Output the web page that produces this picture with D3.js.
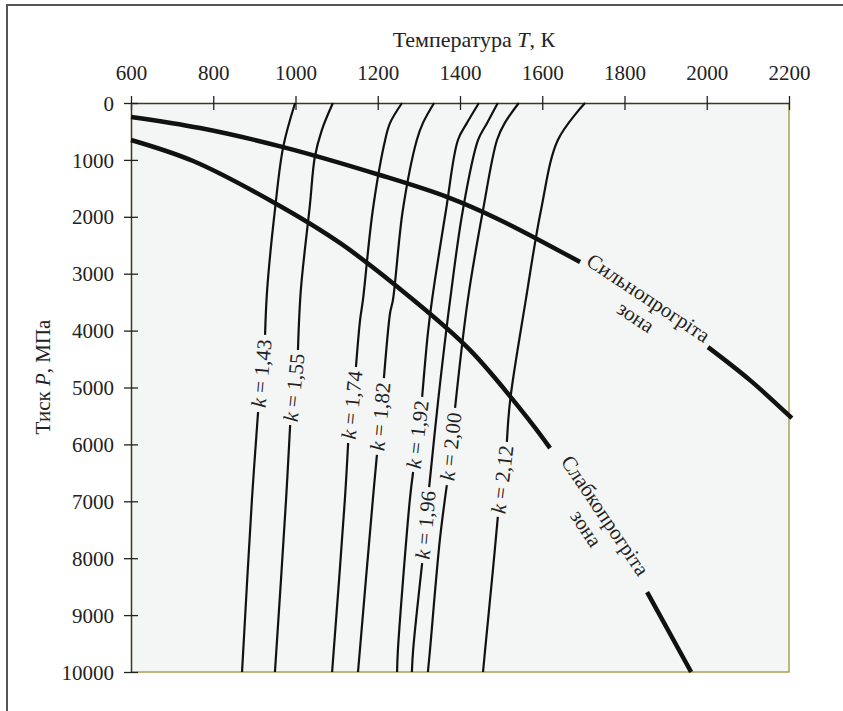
<!DOCTYPE html>
<html>
<head>
<meta charset="utf-8">
<script src="https://cdn.jsdelivr.net/npm/d3@7"></script>
<style>
body { margin: 0; background: #fff; }
svg text { font-family: "Liberation Serif", "Times New Roman", serif; fill: #222; }
</style>
</head>
<body>
<main></main>
<script>
var xTicks = [600, 800, 1000, 1200, 1400, 1600, 1800, 2000, 2200];
var yTicks = [0, 1000, 2000, 3000, 4000, 5000, 6000, 7000, 8000, 9000, 10000];

// iso-k lines: [T, P], null = gap for the label
var kNames = ["1,43", "1,55", "1,74", "1,82", "1,92", "1,96", "2,00", "2,12"];
var k143 = [[999,0],[970,775],[950,1880],[931,3290],[926,4075],null,[909,5430],[894,6975],[870,10000]];
var k155 = [[1091,0],[1064,475],[1047,950],[1035,1795],[1013,3285],[1006,4340],null,[987,5660],[977,6975],[950,10000]];
var k174 = [[1259,0],[1230,350],[1218,650],[1188,1880],[1164,3460],[1157,3815],[1147,4640],null,[1128,5975],[1120,6975],[1089,10000]];
var k182 = [[1337,0],[1310,350],[1295,650],[1261,1880],[1237,3460],[1230,3690],[1215,4835],null,[1198,6185],[1188,6975],[1152,10000]];
var k192 = [[1446,0],[1417,350],[1395,650],[1366,1880],[1332,3460],[1322,4040],[1308,5165],null,[1286,6485],[1278,6975],[1249,9615],[1247,10000]];
var k196 = [[1492,0],[1466,350],[1444,650],[1407,1880],[1376,3460],[1347,5220],[1325,6750],null,[1308,8085],[1286,9615],[1283,10000]];
var k200 = [[1543,0],[1509,350],[1490,650],[1456,1880],[1419,3460],[1388,5360],null,[1368,6715],[1351,7680],[1327,9615],[1322,10000]];
var k212 = [[1704,0],[1638,650],[1597,1880],[1560,3460],[1522,5220],[1514,5955],null,[1492,7275],[1480,8210],[1461,9615],[1456,10000]];
var kLines = [k143, k155, k174, k182, k192, k196, k200, k212];

// zone boundaries
var zoneNames = ["Сильнопрогріта", "Слабкопрогріта"];
var strongZone = [[600,245],[768,440],[970,775],[1205,1265],[1368,1650],[1497,2055],[1692,2795],null,[2003,4290],[2105,4870],[2207,5540]];
var weakZone = [[600,650],[751,1020],[945,1740],[1108,2460],[1278,3410],[1424,4340],[1570,5590],[1619,6065],null,[1855,8595],[1962,10000]];
var zones = [strongZone, weakZone];

var width = 843;
var height = 711;

var svg = d3.select("main")
    .append("svg")
    .attr("width", width)
    .attr("height", height);

var x = d3.scaleLinear().domain([600, 2200]).range([131, 789]);
var y = d3.scaleLinear().domain([0, 10000]).range([103, 672]);

// outer frame
svg.append("path")
    .attr("d", "M7," + height + "V5H" + width)
    .attr("fill", "none")
    .attr("stroke", "#555")
    .attr("stroke-width", 2);

// plot area
svg.append("rect")
    .attr("x", x(600))
    .attr("y", y(0))
    .attr("width", x(2200) - x(600))
    .attr("height", y(10000) - y(0))
    .attr("fill", "#f4f6f5");

svg.append("path")
    .attr("d", "M" + x(2200) + "," + y(0) + "V" + y(10000) + "H" + x(600))
    .attr("fill", "none")
    .attr("stroke", "#aca052")
    .attr("stroke-width", 1.5);

// axes
var xAxis = svg.append("g")
    .attr("transform", "translate(0," + y(0) + ")")
    .call(d3.axisTop(x).tickValues(xTicks).tickSizeOuter(0).tickFormat(d3.format("d")));

xAxis.selectAll(".tick line").attr("y1", -7).attr("y2", 7);
xAxis.selectAll(".tick text").attr("y", -23).attr("dy", 0);

var yAxis = svg.append("g")
    .attr("transform", "translate(" + x(600) + ",0)")
    .call(d3.axisLeft(y).tickValues(yTicks).tickSizeOuter(0).tickFormat(d3.format("d")));

yAxis.selectAll(".tick line").attr("x1", -7).attr("x2", 7);
yAxis.selectAll(".tick text").attr("x", -17).attr("dy", "0.34em");

svg.selectAll(".domain").attr("stroke", "#3a3628").attr("stroke-width", 1.5);
svg.selectAll(".tick line").attr("stroke", "#222").attr("stroke-width", 1.3);
svg.selectAll(".tick text")
    .style("font-family", "'Liberation Serif', serif")
    .style("font-size", "21px")
    .attr("fill", "#222");

// axis titles
var xTitle = svg.append("text")
    .attr("x", 474)
    .attr("y", 47)
    .attr("text-anchor", "middle")
    .style("font-size", "22px");
xTitle.append("tspan").text("Температура ");
xTitle.append("tspan").style("font-style", "italic").text("T");
xTitle.append("tspan").text(", К");

var yTitle = svg.append("text")
    .attr("transform", "translate(50,377) rotate(-90)")
    .attr("text-anchor", "middle")
    .style("font-size", "21px");
yTitle.append("tspan").text("Тиск ");
yTitle.append("tspan").style("font-style", "italic").text("P");
yTitle.append("tspan").text(", МПа");

var line = d3.line()
    .defined(d => d !== null)
    .x(d => x(d[0]))
    .y(d => y(d[1]))
    .curve(d3.curveCatmullRom.alpha(0.5));

function gapInfo(pts) {
    var i = pts.indexOf(null);
    var a = [x(pts[i - 1][0]), y(pts[i - 1][1])];
    var b = [x(pts[i + 1][0]), y(pts[i + 1][1])];
    return { a: a, b: b, mx: (a[0] + b[0]) / 2, my: (a[1] + b[1]) / 2 };
}

// k lines
svg.selectAll(".kline")
    .data(kLines)
    .enter()
    .append("path")
    .attr("class", "kline")
    .attr("d", line)
    .attr("fill", "none")
    .attr("stroke", "#111")
    .attr("stroke-width", 2.2);

kLines.forEach((pts, i) => {
    var g = gapInfo(pts);
    var ang = Math.atan2(g.a[1] - g.b[1], g.a[0] - g.b[0]) * 180 / Math.PI;
    var t = svg.append("text")
        .attr("transform", "translate(" + g.mx + "," + g.my + ") rotate(" + ang + ")")
        .attr("text-anchor", "middle")
        .attr("dominant-baseline", "central")
        .style("font-size", "21px");
    t.append("tspan").style("font-style", "italic").text("k");
    t.append("tspan").text(" = " + kNames[i]);
});

// zone curves
svg.selectAll(".zone")
    .data(zones)
    .enter()
    .append("path")
    .attr("class", "zone")
    .attr("d", line)
    .attr("fill", "none")
    .attr("stroke", "#111")
    .attr("stroke-width", 4.5);

zones.forEach((pts, i) => {
    var g = gapInfo(pts);
    var ang = Math.atan2(g.b[1] - g.a[1], g.b[0] - g.a[0]) * 180 / Math.PI;
    var t = svg.append("text")
        .attr("transform", "translate(" + g.mx + "," + g.my + ") rotate(" + ang + ")")
        .attr("text-anchor", "middle")
        .attr("dominant-baseline", "central")
        .style("font-size", "21px");
    t.append("tspan").attr("x", 0).attr("y", -8).text(zoneNames[i]);
    t.append("tspan").attr("x", 0).attr("y", 15).text("зона");
});
</script>
</body>
</html>
